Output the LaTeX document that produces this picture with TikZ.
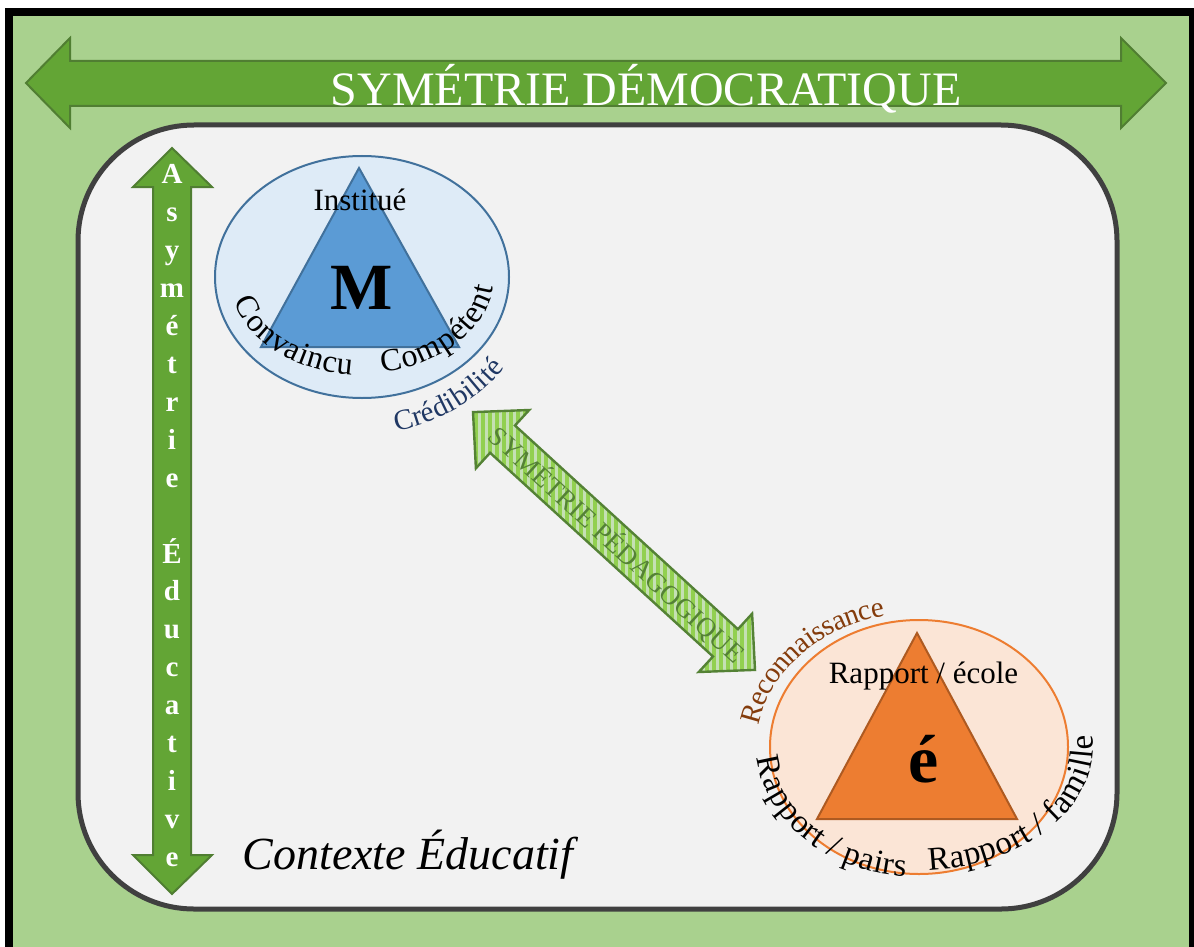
\documentclass[tikz,border=0pt]{standalone}
\usepackage{fontspec}
\setmainfont{Liberation Serif}
\usetikzlibrary{calc, shapes.geometric, decorations.text, patterns.meta}
\definecolor{bggreen}{HTML}{A9D18E}
\definecolor{arrowgreen}{HTML}{63A535}
\definecolor{arrowedge}{HTML}{507E32}
\definecolor{ctxgray}{HTML}{F2F2F2}
\definecolor{ctxedge}{HTML}{404040}
\definecolor{mfill}{HTML}{DEEBF7}
\definecolor{medge}{HTML}{41719C}
\definecolor{mtri}{HTML}{5B9BD5}
\definecolor{efill}{HTML}{FBE5D6}
\definecolor{eedge}{HTML}{ED7D31}
\definecolor{etriedge}{HTML}{AE5A21}
\definecolor{credblue}{HTML}{203864}
\definecolor{recbrown}{HTML}{843C0C}
\definecolor{pedlight}{HTML}{C5E0B4}
\definecolor{pedstripe}{HTML}{92D050}
\definecolor{pededge}{HTML}{548235}
\newcommand{\pfont}[1]{\fontsize{#1}{#1}\selectfont}

\begin{document}
\begin{tikzpicture}[x=0.5pt, y=-0.5pt,
  bigarrow/.style={fill=arrowgreen, draw=arrowedge, line width=1pt},
  ctxbox/.style={fill=ctxgray, draw=ctxedge, line width=2.5pt, rounded corners=58pt},
  vletter/.style={anchor=base, text=white, inner sep=0pt, font=\pfont{14.5}\bfseries},
  pedarrow/.style={preaction={fill=pedlight}, pattern={Lines[angle=90, distance=3.5pt, line width=1.75pt]}, pattern color=pedstripe, draw=pededge, line width=1.2pt},
  arctext/.style={decorate, decoration={text along path, text align=center, raise=-4pt}}]
\useasboundingbox (0,0) rectangle (1194,947);
\fill[white] (0,0) rectangle (1194,947);
\fill[black] (5,8) rectangle (1194,947);
\fill[bggreen] (13,16) rectangle (1189,947);

\draw[bigarrow] (26,83) -- (70,38) -- (70,61) -- (1121,61) -- (1121,38) -- (1166,83) -- (1121,128) -- (1121,106) -- (70,106) -- (70,128) -- cycle;
\node[anchor=base, text=white, font=\pfont{24}] (demo) at (646,105) {SYMÉTRIE DÉMOCRATIQUE};

\draw[ctxbox] (78,125) rectangle (1117,909);

\draw[bigarrow] (172,148) -- (212,187) -- (191,187) -- (191,855) -- (212,855) -- (172,894) -- (133,855) -- (153,855) -- (153,187) -- (133,187) -- cycle;
\foreach \c [count=\i from 0] in {A,s,y,m,é,t,r,i,e,{},É,d,u,c,a,t,i,v,e}
  \node[vletter] (asym\i) at ({172},{184+\i*37.9}) {\c};

\node[ellipse, draw=medge, fill=mfill, line width=1pt, minimum width=147pt, minimum height=121pt, inner sep=0pt] (mzone) at (362,277) {};
\draw[fill=mtri, draw=medge, line width=1pt] (359,168) -- (459,347) -- (261,347) -- cycle;
\node[anchor=base, font=\pfont{15.5}] (inst) at (360,210) {Institué};
\node[anchor=base, font=\pfont{33}\bfseries] (mlet) at (362,309) {M};
\path[arctext, decoration={text={|\pfont{16}|Convaincu}}] ($(mzone)+(178:124 and 90)$) arc[start angle=178, end angle=86, x radius=124, y radius=90];
\path[arctext, decoration={text={|\pfont{16}|Compétent}}] ($(mzone)+(88:124 and 88)$) arc[start angle=88, end angle=-4, x radius=124, y radius=88];
\path[arctext, decoration={text={|\pfont{14.5}|Crédibilité}, text color=credblue, raise=-3.5pt}] ($(mzone)+(98:167 and 150)$) arc[start angle=98, end angle=14, x radius=167, y radius=150];

\node[ellipse, draw=eedge, fill=efill, line width=1pt, minimum width=149pt, minimum height=127pt, inner sep=0pt] (ezone) at (919,747) {};
\draw[fill=eedge, draw=etriedge, line width=1pt] (917,633) -- (1017,819) -- (817,819) -- cycle;
\node[anchor=base, font=\pfont{15.5}] (ecole) at (923.5,683) {Rapport / école};
\node[anchor=base, font=\pfont{34}\bfseries] (elet) at (924,782) {é};
\path[arctext, decoration={text={|\pfont{14.5}|Reconnaissance}, text color=recbrown, raise=-3.5pt}] ($(ezone)+(168:169 and 141)$) arc[start angle=168, end angle=276, x radius=169, y radius=141];
\path[arctext, decoration={text={|\pfont{16.5}|Rapport / pairs}}] ($(ezone)+(188:154 and 122)$) arc[start angle=188, end angle=85, x radius=154, y radius=122];
\path[arctext, decoration={text={|\pfont{16.5}|Rapport / famille}}] ($(ezone)+(94:166 and 115)$) arc[start angle=94, end angle=-16, x radius=166, y radius=115];

\draw[pedarrow] (473.0,412.1) -- (475.9,468.3) -- (490.1,452.8) -- (713.0,656.5) -- (698.8,672.0) -- (755.0,669.9) -- (752.1,613.7) -- (737.9,629.2) -- (515.0,425.5) -- (529.2,410.0) -- cycle;
\node[rotate=-42.45, text=pededge, font=\pfont{13.5}] (pedtxt) at (617,545) {SYMÉTRIE PÉDAGOGIQUE};

\node[anchor=base, font=\pfont{23}\itshape] (ctx) at (408,869) {Contexte Éducatif};
\end{tikzpicture}
\end{document}
